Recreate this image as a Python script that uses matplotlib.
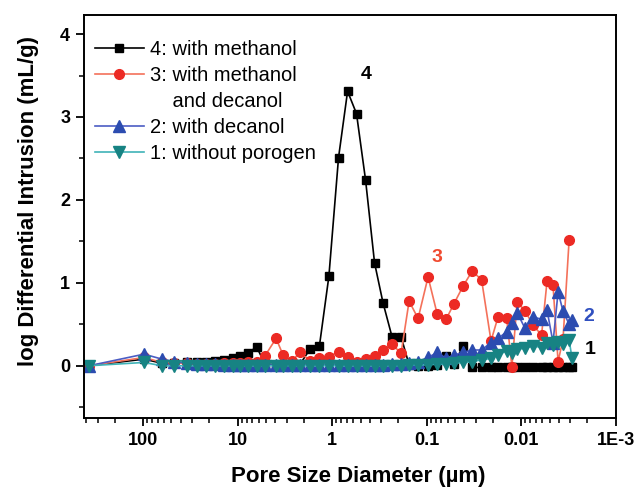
import numpy as np
import matplotlib
matplotlib.use("Agg")
import matplotlib.pyplot as plt
from matplotlib.ticker import FixedLocator, FixedFormatter, MultipleLocator, LogLocator, NullFormatter
from matplotlib.lines import Line2D

plt.rcParams['font.family'] = ['Liberation Sans', 'DejaVu Sans']

# pore size diameter (um), shared by all four samples
diam = [373, 97.6, 63.0, 47.0, 34.2, 26.8, 21.5, 17.3, 13.9, 11.2,
        9.41, 7.74, 6.30, 5.12, 3.91, 3.30, 2.65, 2.18, 1.71, 1.36,
        1.08, 0.854, 0.685, 0.551, 0.442, 0.355, 0.289, 0.232, 0.186, 0.153,
        0.123, 0.0964, 0.0774, 0.0622, 0.0512, 0.0411, 0.0330, 0.0262, 0.0208, 0.0175,
        0.0142, 0.0125, 0.0110, 0.00907, 0.00746, 0.00607, 0.00531, 0.00459, 0.00406, 0.00360,
        0.00310, 0.00289]

# 4: with methanol
s4 = [0, 0.08, 0.03, 0.03, 0.04, 0.04, 0.05, 0.06, 0.07, 0.09,
      0.12, 0.15, 0.23, 0.02, 0.01, 0.01, 0.01, 0.02, 0.20, 0.24,
      1.08, 2.51, 3.31, 3.04, 2.24, 1.24, 0.76, 0.35, 0.35, 0.01,
      0.0, 0.0, 0.01, 0.12, 0.02, 0.24, -0.02, -0.02, -0.02, -0.02,
      -0.02, -0.02, -0.02, -0.02, -0.02, -0.02, -0.02, -0.02, -0.02, -0.02,
      -0.02, -0.02]

# 3: with methanol and decanol
s3 = [0, 0.10, 0.04, 0.03, 0.03, 0.02, 0.02, 0.02, 0.03, 0.03,
      0.03, 0.04, 0.05, 0.12, 0.33, 0.13, 0.06, 0.16, 0.06, 0.09,
      0.11, 0.17, 0.11, 0.05, 0.08, 0.12, 0.19, 0.26, 0.15, 0.78,
      0.57, 1.07, 0.63, 0.56, 0.75, 0.96, 1.14, 1.04, 0.30, 0.59,
      0.57, -0.01, 0.77, 0.66, 0.49, 0.37, 1.02, 0.97, 0.05, 0.32,
      1.52, np.nan]

# 2: with decanol
s2 = [0, 0.14, 0.08, 0.05, 0.03, 0.02, 0.02, 0.02, 0.01, 0.01,
      0.01, 0.01, 0.01, 0.01, 0.01, 0.01, 0.01, 0.01, 0.01, 0.01,
      0.01, 0.01, 0.01, 0.01, 0.01, 0.01, 0.01, 0.02, 0.02, 0.03,
      0.05, 0.10, 0.16, 0.09, 0.13, 0.16, 0.19, 0.19, 0.28, 0.33,
      0.41, 0.52, 0.64, 0.45, 0.59, 0.56, 0.67, 0.28, 0.89, 0.66,
      0.50, 0.55]

# 1: without porogen
s1 = [0, 0.04, 0.0, 0.0, 0.0, 0.0, 0.0, 0.0, 0.0, 0.0,
      0.0, 0.0, 0.0, 0.0, 0.0, 0.0, 0.0, 0.0, 0.0, 0.0,
      0.0, 0.0, 0.0, 0.0, 0.0, 0.0, 0.0, 0.0, 0.0, 0.01,
      0.01, 0.01, 0.02, 0.02, 0.03, 0.04, 0.05, 0.07, 0.09, 0.13,
      0.18, 0.15, 0.20, 0.21, 0.24, 0.22, 0.27, 0.25, 0.29, 0.26,
      0.31, 0.09]

xticks = [100, 10, 1, 0.1, 0.01, 0.001]
xticklabels = ['100', '10', '1', '0.1', '0.01', '1E-3']

fig = plt.figure(figsize=(6.39, 4.92), dpi=100)
ax = fig.add_axes([0.1315, 0.1504, 0.8325, 0.8191])

ax.plot(diam, s4, '-', color='black', lw=1.2, marker='s', ms=6,
        mfc='black', mec='black', label='4: with methanol')
ax.plot(diam, s3, '-', color='#f4715a', lw=1.2, marker='o', ms=7,
        mfc='#ec2a24', mec='#ec2a24', label='3: with methanol')
ax.plot(diam, s2, '-', color='#4b5cc4', lw=1.2, marker='^', ms=8,
        mfc='#2c4cb0', mec='#2c4cb0', label='2: with decanol')
ax.plot(diam, s1, '-', color='#3fb3b8', lw=1.2, marker='v', ms=8,
        mfc='#178383', mec='#178383', label='1: without porogen')

ax.set_xscale('log')
ax.set_xlim(421, 0.00099)
ax.set_ylim(-0.63, 4.23)

ax.xaxis.set_major_locator(FixedLocator(xticks))
ax.xaxis.set_major_formatter(FixedFormatter(xticklabels))
ax.xaxis.set_minor_locator(LogLocator(base=10, subs=np.arange(2, 10), numticks=20))
ax.xaxis.set_minor_formatter(NullFormatter())
ax.yaxis.set_major_locator(FixedLocator([0, 1, 2, 3, 4]))
ax.yaxis.set_minor_locator(MultipleLocator(0.5))

ax.tick_params(which='major', direction='out', length=6, width=1.3,
               labelsize=13, pad=4)
ax.tick_params(which='minor', direction='out', length=3.5, width=1.1)
for lab in ax.get_xticklabels() + ax.get_yticklabels():
    lab.set_fontweight('bold')
for sp in ax.spines.values():
    sp.set_linewidth(1.4)

ax.set_xlabel('Pore Size Diameter (\u00b5m)', fontsize=16, fontweight='bold')
ax.set_ylabel('log Differential Intrusion (mL/g)', fontsize=16,
              fontweight='bold')
ax.xaxis.set_label_coords(0.516, -0.12)
ax.yaxis.set_label_coords(-0.085, 0.538)

# curve labels
ax.text(0.436, 3.51, '4', fontsize=14, fontweight='bold', color='black',
        ha='center', va='center')
ax.text(0.0774, 1.31, '3', fontsize=14, fontweight='bold', color='#f04a30',
        ha='center', va='center')
ax.text(0.0019, 0.59, '2', fontsize=14, fontweight='bold', color='#3050c0',
        ha='center', va='center')
ax.text(0.00187, 0.2, '1', fontsize=14, fontweight='bold', color='black',
        ha='center', va='center')

handles, labels = ax.get_legend_handles_labels()
blank = Line2D([], [], linestyle='none', marker=None)
handles = handles[:2] + [blank] + handles[2:]
labels = labels[:2] + ['    and decanol'] + labels[2:]
ax.legend(handles, labels, loc='upper left', frameon=False, fontsize=14.5,
          handlelength=2.4, handletextpad=0.3, labelspacing=0.35,
          borderaxespad=0.0, borderpad=0.4, bbox_to_anchor=(0.006, 0.958))

fig.savefig('out.png', dpi=100)
